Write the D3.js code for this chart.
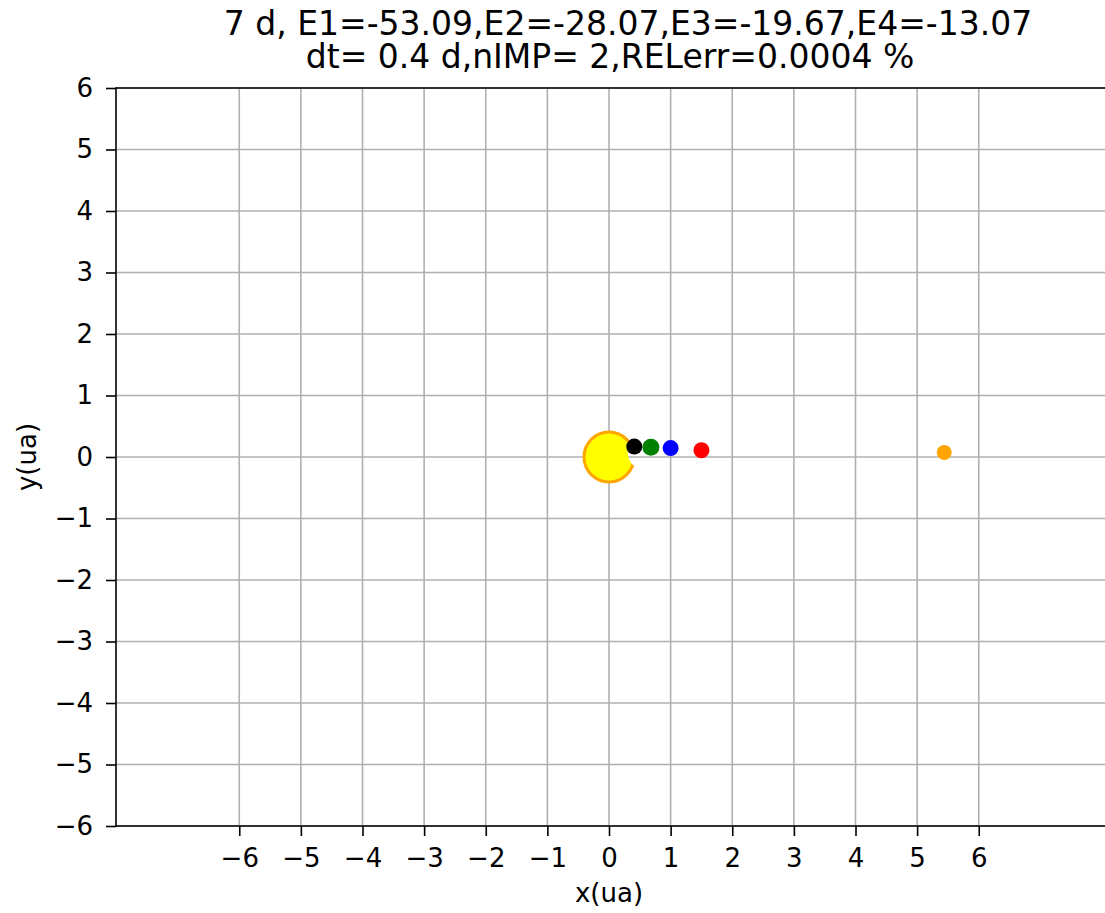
<!DOCTYPE html>
<html>
<head>
<meta charset="utf-8">
<script src="https://cdn.jsdelivr.net/npm/d3@7"></script>
<style>
body { margin: 0; background: #fff; }
text { font-family: "DejaVu Sans", sans-serif; fill: #000; }
</style>
</head>
<body>
<svg id="chart" width="1105" height="913"></svg>
<script>
// title lines
var titleLines = ["7 d, E1=-53.09,E2=-28.07,E3=-19.67,E4=-13.07",
	"dt= 0.4 d,nIMP= 2,RELerr=0.0004 %"];

// tick values
var xTicks = [-6, -5, -4, -3, -2, -1, 0, 1, 2, 3, 4, 5, 6];
var yTicks = [-6, -5, -4, -3, -2, -1, 0, 1, 2, 3, 4, 5, 6];

// bodies (ua)
var bodyNames = ["sun", "p1", "p2", "p3", "p4", "p5"];
var bodyX = [0, 0.41, 0.68, 1.0, 1.5, 5.44];
var bodyY = [0, 0.17, 0.16, 0.145, 0.11, 0.075];

// bite taken out of the sun (ua)
var biteX = [0.58];
var biteY = [0.07];

// appearance
var bodyColors = ["yellow", "black", "green", "blue", "red", "orange"];
var bodyRadius = [25, 8, 8.5, 8, 8, 7.5];
var gridColor = "#b0b0b0";
var tickFont = "26px";
var titleFont = "33px";

var svg = d3.select("#chart");
var plotLeft = 116, plotRight = 1102, plotTop = 88, plotBottom = 826;

// mapping data to svg coordinates
var x = d3.scaleLinear().domain([-8, 8]).range([plotLeft, plotRight]);
var y = d3.scaleLinear().domain([-6, 6]).range([plotBottom, plotTop]);

// grid
svg.append("g").selectAll("line").data(xTicks).enter().append("line")
	.attr("x1", function(d) { return x(d); }).attr("x2", function(d) { return x(d); })
	.attr("y1", plotTop).attr("y2", plotBottom)
	.style("stroke", gridColor).style("stroke-width", 1.6);
svg.append("g").selectAll("line").data(yTicks).enter().append("line")
	.attr("y1", function(d) { return y(d); }).attr("y2", function(d) { return y(d); })
	.attr("x1", plotLeft).attr("x2", 1105)
	.style("stroke", gridColor).style("stroke-width", 1.6);

// mask for the sun's notch
var mask = svg.append("defs").append("mask").attr("id", "sunMask")
	.attr("maskUnits", "userSpaceOnUse").attr("x", 0).attr("y", 0)
	.attr("width", 1105).attr("height", 913);
mask.append("rect").attr("width", 1105).attr("height", 913).style("fill", "#fff");
mask.selectAll("circle").data(biteX).enter().append("circle")
	.attr("cx", function(d) { return x(d); })
	.attr("cy", function(d, i) { return y(biteY[i]); })
	.attr("r", 17).style("fill", "#000");

// bodies
var bodies = bodyNames.map(function(n, i) {
	return { name: n, x: bodyX[i], y: bodyY[i] };
});
svg.append("g").selectAll("circle").data(bodies).enter().append("circle")
	.attr("cx", function(d) { return x(d.x); })
	.attr("cy", function(d) { return y(d.y); })
	.attr("r", function(d, i) { return bodyRadius[i]; })
	.attr("mask", function(d, i) { return i === 0 ? "url(#sunMask)" : null; })
	.style("fill", function(d, i) { return bodyColors[i]; })
	.style("stroke", function(d, i) { return i === 0 ? "orange" : "none"; })
	.style("stroke-width", 3);

// axes
var xAxis = d3.axisBottom(x).tickValues(xTicks).tickSize(10).tickPadding(13)
	.tickFormat(d3.format("d"));
var yAxis = d3.axisLeft(y).tickValues(yTicks).tickSize(10).tickPadding(13)
	.tickFormat(d3.format("d"));

var gx = svg.append("g").attr("transform", "translate(0," + plotBottom + ")").call(xAxis);
var gy = svg.append("g").attr("transform", "translate(" + plotLeft + ",0)").call(yAxis);
[gx, gy].forEach(function(g) {
	g.attr("font-family", null).attr("font-size", null);
	g.select(".domain").remove();
	g.selectAll(".tick line").style("stroke", "#000").style("stroke-width", 1.6);
	g.selectAll(".tick text").style("font-size", tickFont);
});

// spines (right one falls outside the picture)
svg.append("line").attr("x1", plotLeft).attr("x2", 1105).attr("y1", plotBottom).attr("y2", plotBottom)
	.style("stroke", "#000").style("stroke-width", 1.6);
svg.append("line").attr("x1", plotLeft).attr("x2", 1105).attr("y1", plotTop).attr("y2", plotTop)
	.style("stroke", "#000").style("stroke-width", 1.6);
svg.append("line").attr("x1", plotLeft).attr("x2", plotLeft).attr("y1", plotTop).attr("y2", plotBottom)
	.style("stroke", "#000").style("stroke-width", 1.6).style("stroke-linecap", "square");

// labels
svg.append("text").attr("x", x(0)).attr("y", 902).attr("text-anchor", "middle")
	.style("font-size", tickFont).text("x(ua)");
svg.append("text").attr("transform", "translate(36," + y(0) + ") rotate(-90)")
	.attr("text-anchor", "middle").style("font-size", tickFont).text("y(ua)");

// title
svg.append("text").attr("x", 628).attr("y", 35).attr("text-anchor", "middle")
	.style("font-size", titleFont).text(titleLines[0]);
svg.append("text").attr("x", 610).attr("y", 68).attr("text-anchor", "middle")
	.style("font-size", titleFont).text(titleLines[1]);
</script>
</body>
</html>
